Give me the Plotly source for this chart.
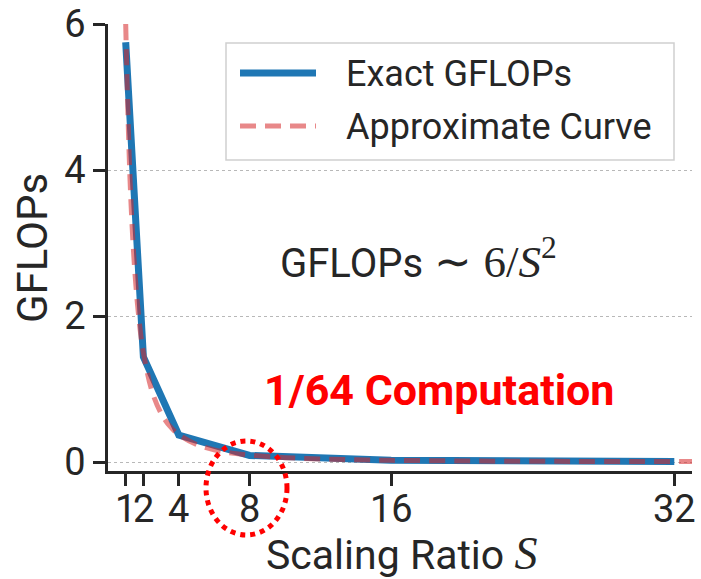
import plotly.graph_objects as go

# Scaling ratio S and measured cost
scale_ratio = [1, 2, 4, 8, 16, 32]
exact_gflops = [5.75, 1.44, 0.37, 0.09, 0.023, 0.006]

# Approximate curve GFLOPs ~ 6 / S^2, sampled
approx_s = [1, 1.25, 1.5, 1.75, 2, 2.5, 3, 3.5, 4, 5, 6, 7, 8, 10, 12, 14, 16, 20, 24, 28, 33]
approx_gflops = [6.0, 3.84, 2.667, 1.959, 1.5, 0.96, 0.667, 0.49, 0.375, 0.24, 0.167,
                 0.122, 0.094, 0.06, 0.042, 0.031, 0.023, 0.015, 0.010, 0.008, 0.006]

x_ticks = [1, 2, 4, 8, 16, 32]
y_ticks = [0, 2, 4, 6]

W, H = 701, 579
ML, MR, MT, MB = 108, 9, 24, 108
PW, PH = W - ML - MR, H - MT - MB

TEXT = "#262626"
FONT = "Roboto"
MATH = "Liberation Serif"


def px(x):
    return (x - ML) / PW


def py(y):
    return (H - MB - y) / PH


fig = go.Figure()
fig.add_trace(go.Scatter(
    x=scale_ratio, y=exact_gflops, mode="lines", name="Exact GFLOPs",
    line=dict(color="#1f77b4", width=7), showlegend=False,
))
fig.add_trace(go.Scatter(
    x=approx_s, y=approx_gflops, mode="lines", name="Approximate Curve",
    line=dict(color="rgba(214,39,40,0.55)", width=5, dash="16px,9px", shape="spline"),
    showlegend=False,
))

shapes = []
# legend frame
shapes.append(dict(type="rect", xref="paper", yref="paper",
                   x0=px(226), x1=px(674), y0=py(160), y1=py(43),
                   line=dict(color="#d0d0d0", width=1.5), fillcolor="rgba(255,255,255,0.85)",
                   layer="above"))
shapes.append(dict(type="line", xref="paper", yref="paper",
                   x0=px(240), x1=px(316), y0=py(73), y1=py(73),
                   line=dict(color="#1f77b4", width=7), layer="above"))
shapes.append(dict(type="line", xref="paper", yref="paper",
                   x0=px(240), x1=px(316), y0=py(126), y1=py(126),
                   line=dict(color="rgba(214,39,40,0.55)", width=5, dash="16px,9px"),
                   layer="above"))
# dotted ring around S = 8
shapes.append(dict(type="circle", xref="paper", yref="paper",
                   x0=px(206), x1=px(287), y0=py(535), y1=py(441),
                   line=dict(color="#ff0000", width=5, dash="dot"), layer="above"))

annotations = [
    dict(xref="paper", yref="paper", x=px(344), y=py(74), xanchor="left", yanchor="middle",
         text="Exact GFLOPs", showarrow=False, font=dict(family=FONT, size=36, color=TEXT)),
    dict(xref="paper", yref="paper", x=px(344), y=py(127), xanchor="left", yanchor="middle",
         text="Approximate Curve", showarrow=False, font=dict(family=FONT, size=36, color=TEXT)),
    dict(xref="paper", yref="paper", x=px(418), y=py(258), xanchor="center", yanchor="middle",
         showarrow=False,
         text=("GFLOPs<span style='font-family:%s;font-size:45px'> ∼ 6/<i>S</i><sup>2</sup></span>"
               % MATH),
         font=dict(family=FONT, size=40, color=TEXT)),
    dict(xref="paper", yref="paper", x=px(439), y=py(390), xanchor="center", yanchor="middle",
         showarrow=False, text="<b>1/64 Computation</b>",
         font=dict(family=FONT, size=43, color="#ff0000")),
    # axis titles
    dict(xref="paper", yref="paper", x=px(401), y=py(553), xanchor="center", yanchor="middle",
         showarrow=False,
         text="Scaling Ratio <span style='font-family:%s;font-size:46px'><i>S</i></span>" % MATH,
         font=dict(family=FONT, size=41, color=TEXT)),
    dict(xref="paper", yref="paper", x=px(32), y=py(248), xanchor="center", yanchor="middle",
         showarrow=False, textangle=-90, text="GFLOPs",
         font=dict(family=FONT, size=42, color=TEXT)),
]
# x tick labels, set just below the tick marks
for v in x_ticks:
    annotations.append(dict(xref="x", yref="paper", x=v, y=py(509), xanchor="center",
                            yanchor="middle", showarrow=False, text=str(v),
                            font=dict(family=FONT, size=38, color=TEXT)))

fig.update_layout(
    width=W, height=H,
    margin=dict(l=ML, r=MR, t=MT, b=MB, autoexpand=False),
    paper_bgcolor="white", plot_bgcolor="white",
    font=dict(family=FONT, color=TEXT, size=36),
    shapes=shapes, annotations=annotations,
    showlegend=False,
)
fig.update_xaxes(
    range=[0, 33], tickmode="array", tickvals=x_ticks, showticklabels=False,
    automargin=False,
    showline=True, linecolor=TEXT, linewidth=2.5, ticks="outside", ticklen=12,
    tickwidth=2.5, tickcolor=TEXT, showgrid=False, zeroline=False,
)
fig.update_yaxes(
    range=[-0.123, 6], tickmode="array", tickvals=y_ticks, ticktext=[str(v) for v in y_ticks],
    automargin=False,
    showline=True, linecolor=TEXT, linewidth=2.5, ticks="outside", ticklen=12,
    tickwidth=2.5, tickcolor=TEXT, showgrid=True, gridcolor="#b8b8b8", gridwidth=1.2,
    griddash="dot", zeroline=False,
    tickfont=dict(size=38, family=FONT, color=TEXT),
)

fig.write_html("out.html")
